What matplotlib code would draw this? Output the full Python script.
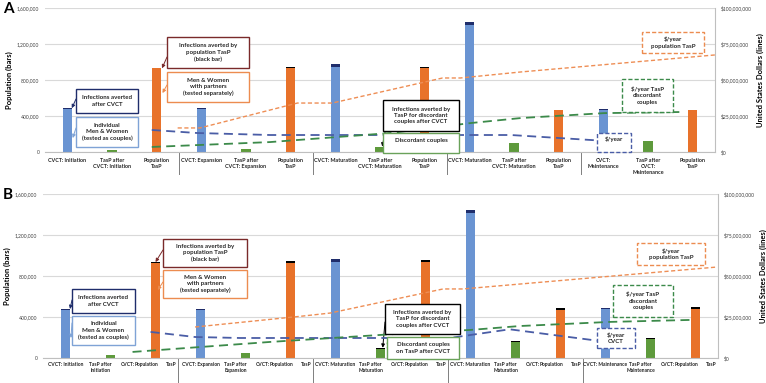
import numpy as np
import matplotlib
matplotlib.use('Agg')
from matplotlib import pyplot as plt
from matplotlib.patches import Rectangle

plt.rcParams['font.family'] = ['Lato', 'DejaVu Sans']

W, H = 766, 383

# x categories: 5 phases x (CVCT, TasP after CVCT, Population TasP)
phases = ["Initiation", "Expansion", "Maturation", "Maturation", "Maintenance"]

# ---- Panel A data (people) ----
a_cvct = [478000, 478000, 948000, 1410000, 470000]
a_cvct_averted = [9000, 9000, 30000, 34000, 8000]
a_tasp = [18000, 30000, 52000, 96000, 118000]
a_tasp_averted = [2000, 3000, 3000, 4000, 4000]
a_pop = [930000, 936000, 936000, 464000, 467000]
a_pop_averted = [3000, 4000, 4000, 3000, 3000]

# ---- Panel B data (people) ----
b_cvct = [470000, 470000, 940000, 1410000, 480000]
b_cvct_averted = [8000, 8000, 26000, 34000, 8000]
b_tasp = [28000, 47000, 90000, 156000, 183000]
b_tasp_averted = [2000, 3000, 8000, 10000, 12000]
b_pop = [926000, 930000, 938000, 468000, 478000]
b_pop_averted = [10000, 16000, 18000, 20000, 19000]

# ---- $/year lines (x in category units) ----
a_pop_cost_x = [2.47, 2.97, 5.15, 5.93, 8.4, 8.8, 10.16, 14.5]
a_pop_cost = [16.7e6, 16.7e6, 34e6, 34e6, 51.4e6, 51.4e6, 55.6e6, 67.4e6]
a_cvct_cost_x = [1.89, 2.9, 4.54, 9.93, 12.1]
a_cvct_cost = [15.3e6, 13.2e6, 11.8e6, 11.8e6, 7.6e6]
a_dc_cost_x = [1.89, 4.54, 7.24, 9.03, 10.16, 12.02, 13.8]
a_dc_cost = [3.5e6, 6.9e6, 13.2e6, 20.1e6, 23.6e6, 27.0e6, 27.8e6]

b_pop_cost_x = [2.88, 5.28, 5.88, 8.39, 8.83, 10.1, 14.49]
b_pop_cost = [18.9e6, 25.6e6, 27.4e6, 42.1e6, 42.1e6, 45.1e6, 55.5e6]
b_cvct_cost_x = [1.89, 2.88, 3.88, 8.54, 9.87, 12.03]
b_cvct_cost = [15.9e6, 12.8e6, 12.2e6, 12.2e6, 17.5e6, 9.8e6]
b_dc_cost_x = [1.49, 4.55, 7.65, 8.99, 10.1, 12.09, 13.87]
b_dc_cost = [3.7e6, 9.8e6, 15.2e6, 17.1e6, 19.5e6, 22.0e6, 23.2e6]

BLUE = '#6A94D2'
NAVY = '#1F2D6B'
ORANGE = '#E8722A'
GREEN = '#5E9A3C'
LBLUE = '#7FA3D6'
DRED = '#7A2A2A'
LORANGE = '#EC8C50'
LGREEN = '#6AA25A'
LINE_BLUE = '#4A5DA6'
LINE_GREEN = '#3C8A4A'
LINE_ORANGE = '#EE8E55'
GRID = '#D9D9D9'

fig = plt.figure(figsize=(W / 100, H / 100), dpi=100)


def fx(px):
    return px / W


def fy(py):
    return 1 - py / H


def draw_panel(rect, cvct, cvct_av, tasp, tasp_av, pop, pop_av,
               pop_x, pop_c, cv_x, cv_c, dc_x, dc_c):
    l, t, r, b = rect
    ax = fig.add_axes([fx(l), fy(b), fx(r) - fx(l), fy(t) - fy(b)])
    g = np.arange(5) * 3
    w = 0.21
    ax.bar(g, cvct, w, color=BLUE, zorder=2)
    ax.bar(g, cvct_av, w, bottom=cvct, color=NAVY, zorder=2)
    ax.bar(g + 1, tasp, w, color=GREEN, zorder=2)
    ax.bar(g + 1, tasp_av, w, bottom=tasp, color='black', zorder=2)
    ax.bar(g + 2, pop, w, color=ORANGE, zorder=2)
    ax.bar(g + 2, pop_av, w, bottom=pop, color='black', zorder=2)
    ax.set_xlim(-0.5, 14.5)
    ax.set_ylim(0, 1600000)
    ax.set_yticks(np.arange(0, 1600001, 400000))
    ax.set_yticklabels(['{:,}'.format(v) for v in range(0, 1600001, 400000)],
                       fontsize=3.6, color='#404040')
    ax.tick_params(axis='y', length=0, pad=4)
    ax.grid(axis='y', color=GRID, lw=0.8, zorder=0)
    ax.set_axisbelow(True)
    for s in ['left', 'top', 'right']:
        ax.spines[s].set_visible(False)
    ax.spines['bottom'].set_color('#BFBFBF')
    ax.spines['bottom'].set_linewidth(0.8)
    ax.set_ylabel('Population (bars)', fontsize=5.5, fontweight='bold', labelpad=3)
    # separators between phase groups
    for xs in [2.5, 5.5, 8.5, 11.5]:
        ax.plot([xs, xs], [0, -0.15], color='#7F7F7F', lw=0.7,
                transform=ax.get_xaxis_transform(), clip_on=False)

    ax2 = ax.twinx()
    ax2.set_ylim(0, 100e6)
    ax2.set_yticks(np.arange(0, 100e6 + 1, 25e6))
    ax2.set_yticklabels(['${:,}'.format(int(v)) for v in np.arange(0, 100e6 + 1, 25e6)],
                        fontsize=3.6, color='#404040')
    ax2.tick_params(axis='y', length=0, pad=4)
    for s in ['left', 'top', 'bottom']:
        ax2.spines[s].set_visible(False)
    ax2.spines['right'].set_color('#BFBFBF')
    ax2.spines['right'].set_linewidth(0.8)
    ax2.set_ylabel('United States Dollars (lines)', fontsize=5.5, fontweight='bold',
                   rotation=90, labelpad=4)
    ax2.plot(pop_x, pop_c, color=LINE_ORANGE, lw=1.0, dashes=(3, 1.8))
    ax2.plot(cv_x, cv_c, color=LINE_BLUE, lw=1.3, dashes=(5, 3))
    ax2.plot(dc_x, dc_c, color=LINE_GREEN, lw=1.3, dashes=(5, 3))
    return ax, ax2


def add_box(x0, y0, x1, y1, text, ec, ls='-', ty=None):
    fig.add_artist(Rectangle((fx(x0), fy(y1)), fx(x1) - fx(x0), fy(y0) - fy(y1),
                             transform=fig.transFigure, facecolor='white',
                             edgecolor=ec, lw=1.0, linestyle=ls, zorder=5))
    yc = (y0 + y1) / 2 if ty is None else ty
    fig.text(fx((x0 + x1) / 2), fy(yc), text, ha='center', va='center',
             fontsize=4.4, fontweight='bold', color='#262626', linespacing=1.35,
             zorder=6)


def add_arrow(ax, start, tip, color):
    ax.annotate('', xy=tip, xycoords='data',
                xytext=(fx(start[0]), fy(start[1])), textcoords='figure fraction',
                arrowprops=dict(arrowstyle='-|>', color=color, lw=0.7,
                                mutation_scale=5, shrinkA=0, shrinkB=0),
                zorder=4, annotation_clip=False)


# ---------------- Panel A ----------------
axA, axA2 = draw_panel((45, 8, 715, 152), a_cvct, a_cvct_averted, a_tasp, a_tasp_averted,
                       a_pop, a_pop_averted, a_pop_cost_x, a_pop_cost,
                       a_cvct_cost_x, a_cvct_cost, a_dc_cost_x, a_dc_cost)
labels_a = []
for p in phases:
    cv = "CVCT:\n" + p if p == "Maintenance" else "CVCT: " + p
    labels_a += [cv, "TasP after\nCVCT:\n" + p if p == "Maintenance" else "TasP after\nCVCT: " + p,
                 "Population\nTasP"]
axA.set_xticks(np.arange(15))
axA.set_xticklabels(labels_a, fontsize=3.9, fontweight='bold', color='#262626',
                    linespacing=1.3)
axA.tick_params(axis='x', length=0, pad=4)

add_box(76, 89, 138, 113, "Infections averted\nafter CVCT", NAVY)
add_box(76, 117, 138, 147, "Individual\nMen & Women\n(tested as couples)", LBLUE)
add_box(167, 37, 249, 68, "Infections averted by\npopulation TasP\n(black bar)", DRED)
add_box(167, 72, 249, 102, "Men & Women\nwith partners\n(tested separately)", LORANGE)
add_box(383, 100, 459, 131, "Infections averted by\nTasP for discordant\ncouples after CVCT", 'black')
add_box(383, 133, 459, 153, "Discordant couples", LGREEN, ty=140)
add_box(642, 32, 704, 53, "$/year\npopulation TasP", LORANGE, ls=(0, (3, 1.5)))
add_box(622, 79, 673, 112, "$/year TasP\ndiscordant\ncouples", LINE_GREEN, ls=(0, (3, 1.5)))
add_box(597, 133, 631, 152, "$/year", LINE_BLUE, ls=(0, (3, 1.5)), ty=139)

add_arrow(axA, (76, 99), (0.1, a_cvct[0] + a_cvct_averted[0]), NAVY)
add_arrow(axA, (76, 128), (0.12, 155000), LBLUE)
add_arrow(axA, (167, 57), (2.12, a_pop[0]), DRED)
add_arrow(axA, (167, 85), (2.13, 655000), LORANGE)
add_arrow(axA, (387, 122), (7.05, a_tasp[2] + 8000), 'black')
add_arrow(axA, (385, 142), (7.15, 25000), LGREEN)

fig.text(fx(3), fy(9), 'A', fontsize=11, fontweight='bold', va='center', ha='left')

# ---------------- Panel B ----------------
axB, axB2 = draw_panel((43, 194, 718, 358), b_cvct, b_cvct_averted, b_tasp, b_tasp_averted,
                       b_pop, b_pop_averted, b_pop_cost_x, b_pop_cost,
                       b_cvct_cost_x, b_cvct_cost, b_dc_cost_x, b_dc_cost)
axB.set_xticks([])
for i, p in enumerate(phases):
    c = 3 * i
    tr = axB.get_xaxis_transform()
    kw = dict(transform=tr, fontsize=3.6, fontweight='bold', color='#262626',
              va='top', ha='center', linespacing=1.3)
    axB.text(c, -0.025, "CVCT: " + p, **kw)
    axB.text(c + 1 - 0.22, -0.025, "TasP after\n" + p, **kw)
    axB.text(c + 1 + 0.38, -0.025, "CVCT:", **kw)
    axB.text(c + 2 - 0.2, -0.025, "Population", **kw)
    axB.text(c + 2 + 0.35, -0.025, "TasP", **kw)

add_box(72, 289, 135, 313, "Infections averted\nafter CVCT", NAVY)
add_box(72, 316, 135, 345, "Individual\nMen & Women\n(tested as couples)", LBLUE)
add_box(163, 239, 247, 267, "Infections averted by\npopulation TasP\n(black bar)", DRED)
add_box(163, 270, 247, 298, "Men & Women\nwith partners\n(tested separately)", LORANGE)
add_box(385, 304, 460, 334, "Infections averted by\nTasP for discordant\ncouples after CVCT", 'black')
add_box(387, 337, 459, 359, "Discordant couples\non TasP after CVCT", LGREEN)
add_box(637, 243, 705, 265, "$/year\npopulation TasP", LORANGE, ls=(0, (3, 1.5)))
add_box(613, 285, 673, 317, "$/year TasP\ndiscordant\ncouples", LINE_GREEN, ls=(0, (3, 1.5)))
add_box(597, 328, 635, 348, "$/year\nCVCT", LINE_BLUE, ls=(0, (3, 1.5)))

add_arrow(axB, (72, 300), (0.1, b_cvct[0] + b_cvct_averted[0]), NAVY)
add_arrow(axB, (72, 323), (0.12, 195000), LBLUE)
add_arrow(axB, (163, 250), (2.0, b_pop[0] + b_pop_averted[0]), DRED)
add_arrow(axB, (163, 282), (2.05, 663000), LORANGE)
add_arrow(axB, (385, 322), (7.05, b_tasp[2] + 10000), 'black')
add_arrow(axB, (387, 343), (7.2, 68000), LGREEN)

fig.text(fx(3), fy(195), 'B', fontsize=11, fontweight='bold', va='center', ha='left')

fig.savefig('out.png', dpi=100)
